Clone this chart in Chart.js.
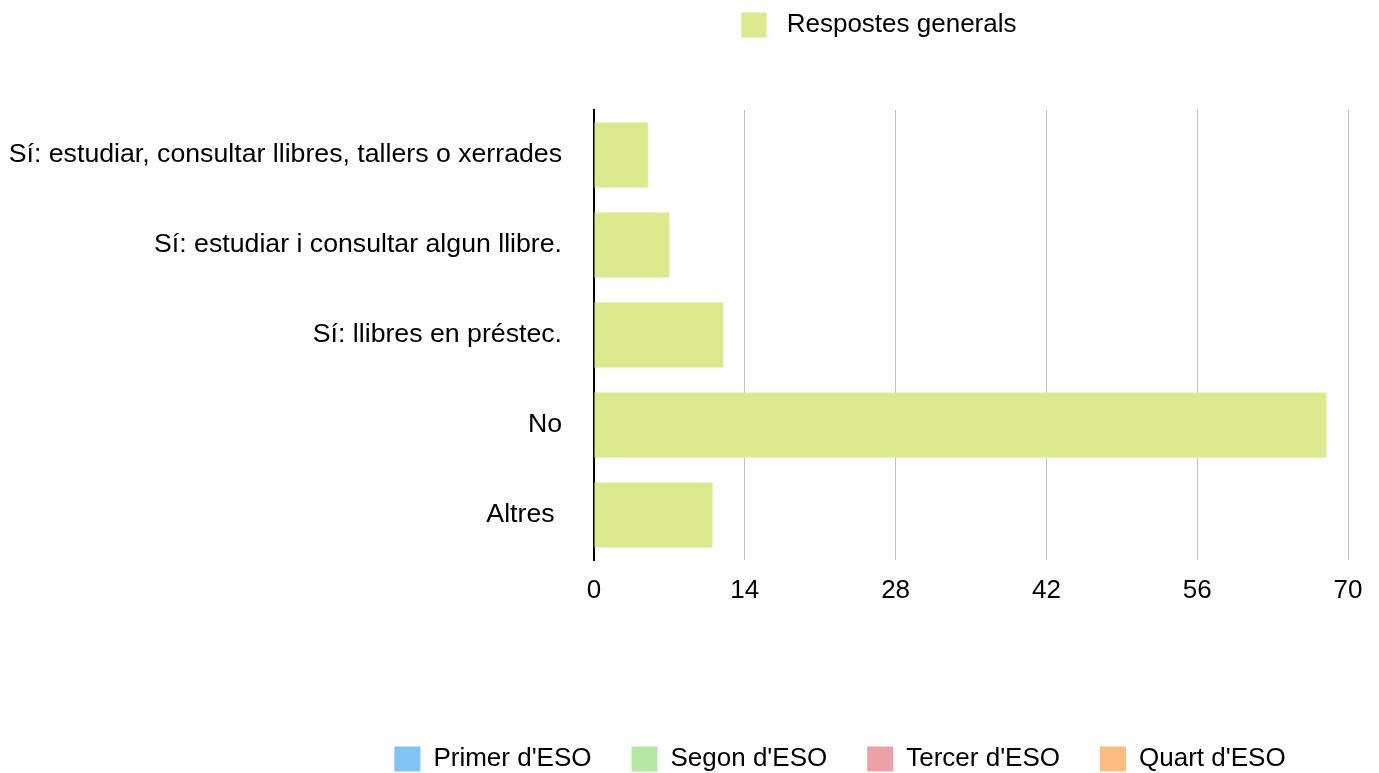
<!DOCTYPE html>
<html lang="ca">
<head>
  <meta charset="UTF-8">
  <title>Respostes generals</title>
  <script src="https://cdn.jsdelivr.net/npm/chart.js"></script>
  <style>
    html, body { margin: 0; padding: 0; background: white; }
    body { width: 1379px; height: 773px; position: relative; overflow: hidden; font-family: "Liberation Sans", Arial, sans-serif; }
    #main-wrap { position: absolute; left: 0; top: 0; width: 1379px; height: 773px; }
    #top-legend-wrap { position: absolute; left: 579px; top: 2px; width: 600px; height: 120px; }
    #bottom-legend-wrap { position: absolute; left: 290px; top: 706px; width: 1100px; height: 170px; }
  </style>
</head>
<body>
<div id="main-wrap"><canvas id="main-chart"></canvas></div>
<div id="top-legend-wrap"><canvas id="top-legend"></canvas></div>
<div id="bottom-legend-wrap"><canvas id="bottom-legend"></canvas></div>

<script>
const categories = [
  'Sí: estudiar, consultar llibres, tallers o xerrades',
  'Sí: estudiar i consultar algun llibre.',
  'Sí: llibres en préstec.',
  'No',
  'Altres '
];
const respostesGenerals = [5, 7, 12, 68, 11];
const mainLabel = 'Respostes generals';
const mainColor = '#dce98d';
const xMin = 0, xMax = 70, xStep = 14;

const courseLabels = ["Primer d'ESO", "Segon d'ESO", "Tercer d'ESO", "Quart d'ESO"];
const courseColors = ['#80c3f5', '#b3e8a2', '#eca1a7', '#fdbd81'];

const FONT = '"Liberation Sans", Arial, sans-serif';
Chart.defaults.font.family = FONT;
Chart.defaults.color = '#000';
Chart.defaults.animation = false;

// main bar chart, no legend of its own
new Chart(document.getElementById('main-chart'), {
  type: 'bar',
  data: {
    labels: categories,
    datasets: [{ label: mainLabel, data: respostesGenerals, backgroundColor: mainColor, borderWidth: 0 }]
  },
  options: {
    indexAxis: 'y',
    responsive: true,
    maintainAspectRatio: false,
    layout: { padding: { top: 110, right: 31, bottom: 153, left: 0 } },
    plugins: { legend: { display: false }, tooltip: { enabled: false } },
    scales: {
      x: {
        min: xMin, max: xMax,
        ticks: { stepSize: xStep, padding: 15, font: { size: 26 } },
        grid: { color: '#c4c4c4', lineWidth: 1, drawTicks: false },
        border: { display: false },
        afterFit: s => { s.height = 60; }
      },
      y: {
        ticks: { padding: 32, font: { size: 26.7 } },
        grid: { display: false, drawTicks: false },
        border: { display: true, color: '#000', width: 2 },
        afterFit: s => { s.width = 594; }
      }
    }
  }
});

// legend-only charts (the picture has two separate legends)
function legendOnly(id, labels, colors, boxW, itemPad, prefix) {
  new Chart(document.getElementById(id), {
    type: 'bar',
    data: {
      labels: [],
      datasets: labels.map((l, i) => ({ label: l, data: [], backgroundColor: colors[i] }))
    },
    options: {
      responsive: true,
      maintainAspectRatio: false,
      plugins: {
        tooltip: { enabled: false },
        legend: {
          position: 'top',
          labels: {
            boxWidth: boxW, boxHeight: 25, padding: itemPad,
            font: { size: 26 }, color: '#000',
            generateLabels: chart => Chart.defaults.plugins.legend.labels.generateLabels(chart)
              .map(it => Object.assign(it, { text: prefix + it.text, lineWidth: 0 }))
          }
        }
      },
      scales: { x: { display: false }, y: { display: false } }
    }
  });
}

legendOnly('top-legend', [mainLabel], [mainColor], 25, 10, ' ');
legendOnly('bottom-legend', courseLabels, courseColors, 26, 40, '');
</script>
</body>
</html>
